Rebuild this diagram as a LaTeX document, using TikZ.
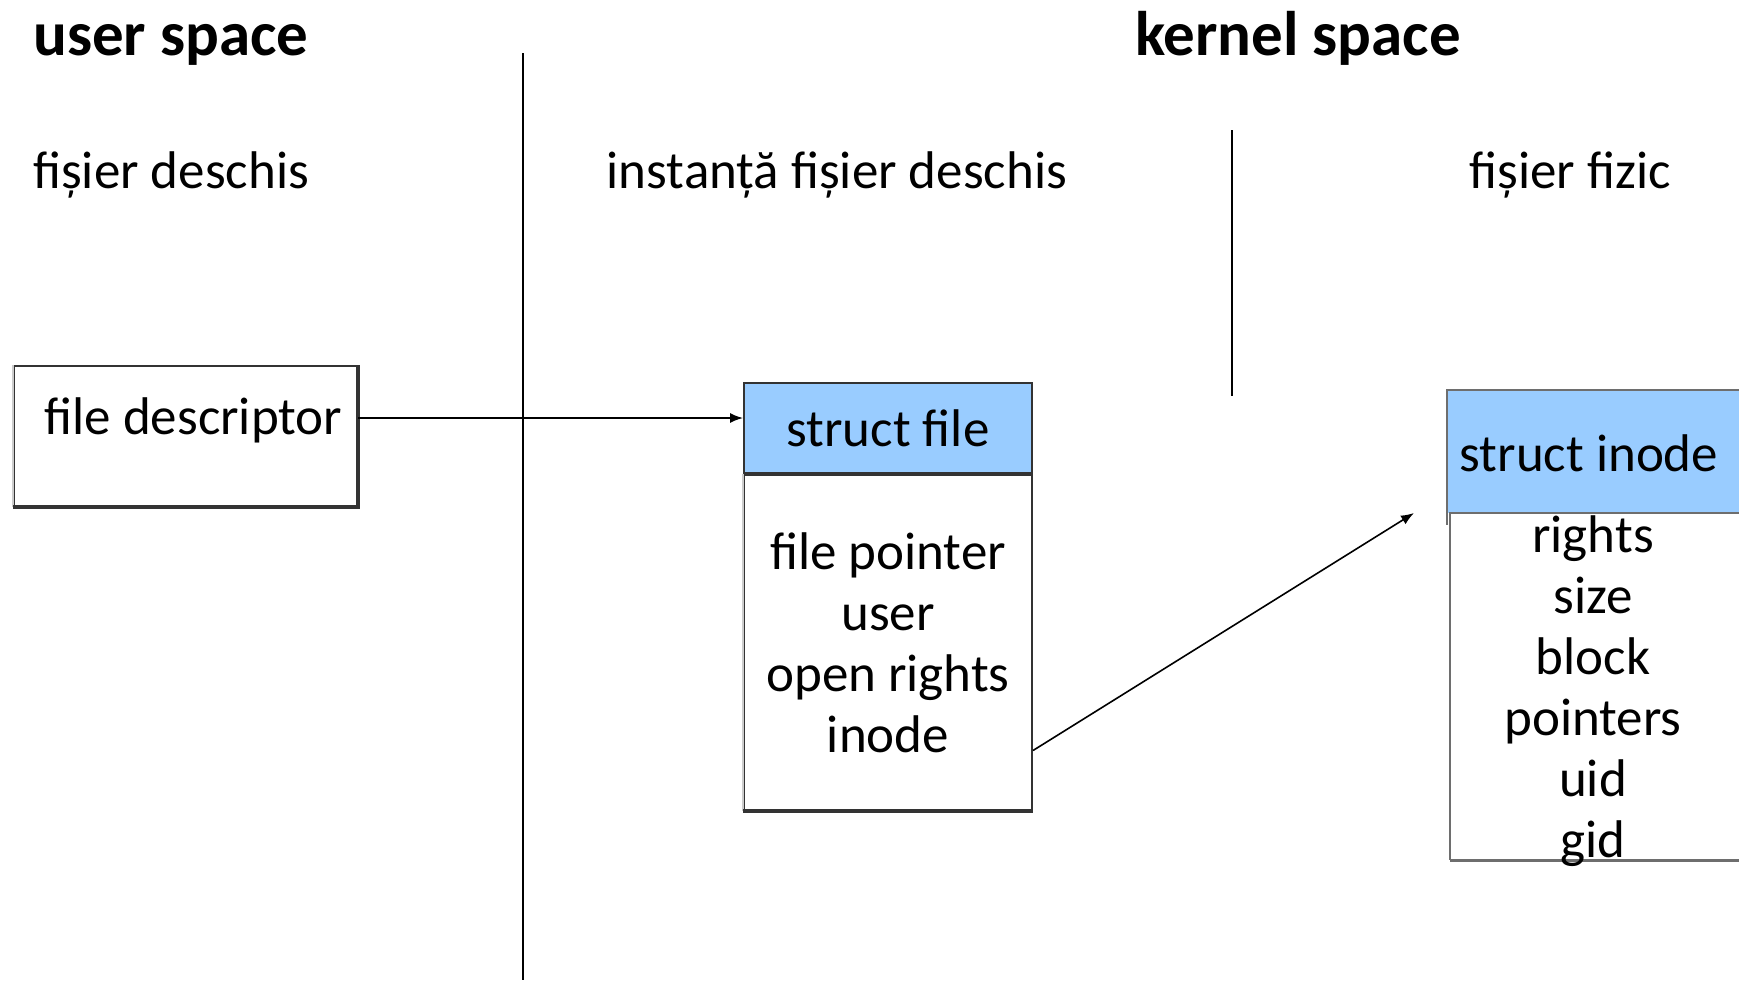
\documentclass[tikz,border=0pt]{standalone}
\usepackage{fontspec}
\setmainfont{Carlito}
\usepackage{tikz}
\usetikzlibrary{arrows.meta,positioning}

\begin{document}
\begin{tikzpicture}[x=1pt,y=-1pt]

	\definecolor{headblue}{RGB}{153,204,255}
	\definecolor{boxgray}{RGB}{110,110,110}

	\useasboundingbox (0,0) rectangle (1739,980);

	\tikzstyle{conn} = [draw,-{Latex[length=13pt,width=10pt]},line width=1.6pt]
	\tikzset{title/.style = {font=\fontsize{63}{75}\selectfont\bfseries, inner sep=0pt}}
	\tikzset{sub/.style = {font=\fontsize{53}{61}\selectfont, inner sep=0pt}}

	\node[title, anchor=base west] (us) at (33,55) {user space};
	\node[title, anchor=base] (ks) at (1298,55) {kernel space};
	\node[sub, anchor=west] (fd-lbl) at (33,175) {fișier deschis};
	\node[sub] (inst-lbl) at (837,175) {instanță fișier deschis};
	\node[sub] (phys-lbl) at (1570,175) {fișier fizic};

	% separators
	\draw[line width=1.5pt] (523,53) -- (523,980);
	\draw[line width=1.5pt] (1232,130) -- (1232,396);

	\tikzset{box/.style = {shape=rectangle, draw=black!80, line width=2pt, inner sep=0pt, align=center}}

	% user space
	\node[box, anchor=north west, minimum width=343pt, minimum height=140pt] (fd) at (13,365) {};
	\draw[gray!40, line width=2pt] (fd.north west) -- (fd.south west);
	\draw[black!80, line width=4pt] (fd.south west) -- (fd.south east) -- (fd.north east);
	\node[sub, below right=32pt and 8pt of fd.north, anchor=north] (fd-txt) {file descriptor};

	% struct file
	\node[box, fill=headblue, anchor=north west, minimum width=288pt, minimum height=90pt, font=\fontsize{53}{61}\selectfont] (sfhead) at (743,382) {struct file};
	\node[box, below=0pt of sfhead, minimum width=288pt, minimum height=335pt, font=\fontsize{53}{61}\selectfont] (sfbody) {file pointer\\user\\open rights\\inode};
	\draw[gray!40, line width=2pt] (sfbody.north west) -- (sfbody.south west);
	\draw[black!80, line width=4pt] (sfbody.south west) -- (sfbody.south east);

	% struct inode, cut by the right edge
	\node[shape=rectangle, fill=headblue, anchor=north west, minimum width=340pt, minimum height=123pt] (sihead) at (1447,390) {};
	\draw[boxgray, line width=2.5pt] (sihead.north east) -- (sihead.north west) -- ([yshift=-12pt]sihead.south west);
	\node[shape=rectangle, anchor=north west, minimum width=340pt, minimum height=347pt] (sibody) at (1450,513) {};
	\draw[boxgray, line width=2pt] (sibody.north east) -- (sibody.north west) -- (sibody.south west);
	\draw[boxgray, line width=3.5pt] (sibody.south west) -- (sibody.south east);
	\node[sub] (si-txt) at (1589,453) {struct inode};
	\node[sub, align=center] (si-fields) at (1593,691) {rights\\size\\block\\pointers\\uid\\gid};

	\coordinate (inode-ptr) at (1414,513);

	\draw[conn] ([yshift=18pt]fd.east) -- ([yshift=18pt]fd.east -| sfhead.west);
	\draw[conn] ([yshift=-108pt]sfbody.east) -- (inode-ptr);
\end{tikzpicture}
\end{document}
